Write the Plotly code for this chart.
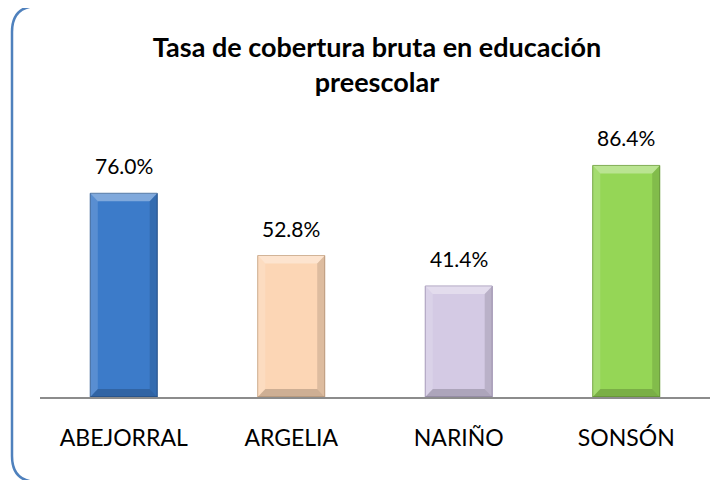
import plotly.graph_objects as go

categories = ["ABEJORRAL", "ARGELIA", "NARIÑO", "SONSÓN"]
values = [76.0, 52.8, 41.4, 86.4]
bar_colors = ["#3c7bc9", "#fcd6b5", "#d4cae4", "#95d656"]
edge_colors = ["#28568f", "#c9a583", "#9d90b3", "#6a9f36"]

OFF = 8  # browser body margin (figure drawn at 8,8 in the window)
W, H = 728 - OFF, 480 - OFF
L, R, T, B = 40 - OFF, 18, 129 - OFF, 83
pw, ph = W - L - R, H - T - B
FONT = "Lato, Open Sans, sans-serif"

def px2paper(x, y):
    # window pixel -> paper coords
    return (x - OFF - L) / pw, (H - B - (y - OFF)) / ph

fig = go.Figure()
fig.add_trace(go.Bar(
    x=categories, y=values, width=0.4,
    marker=dict(color=bar_colors, line=dict(color=edge_colors, width=1)),
    hoverinfo="x+y",
))

# value labels
for c, v in zip(categories, values):
    fig.add_annotation(x=c, y=v, text=f"{v:.1f}%", showarrow=False,
                       yanchor="bottom", yshift=13,
                       font=dict(size=21, color="#000000", family=FONT))

# bevel effect on each bar (derived from data)
bw = 0.2
bx = 0.045   # bevel in category units
by = 3.0     # bevel in value units
for i, v in enumerate(values):
    xl, xr = i - bw, i + bw
    fig.add_shape(type="path", xref="x", yref="y",
                  path=f"M {xl},{v} L {xr},{v} L {xr-bx},{v-by} L {xl+bx},{v-by} Z",
                  fillcolor="rgba(255,255,255,0.35)", line=dict(width=0))
    fig.add_shape(type="path", xref="x", yref="y",
                  path=f"M {xl},{v} L {xl+bx},{v-by} L {xl+bx},{by} L {xl},0 Z",
                  fillcolor="rgba(255,255,255,0.15)", line=dict(width=0))
    fig.add_shape(type="path", xref="x", yref="y",
                  path=f"M {xr},{v} L {xr-bx},{v-by} L {xr-bx},{by} L {xr},0 Z",
                  fillcolor="rgba(0,0,0,0.12)", line=dict(width=0))
    fig.add_shape(type="path", xref="x", yref="y",
                  path=f"M {xl},0 L {xr},0 L {xr-bx},{by} L {xl+bx},{by} Z",
                  fillcolor="rgba(0,0,0,0.18)", line=dict(width=0))

# rounded border (extends slightly past the right and bottom edges)
x0, y0, x1, y1, r = 12, 6, 741, 482, 26
def P(x, y):
    a, b = px2paper(x, y)
    return f"{a:.5f},{b:.5f}"
path = (f"M {P(x0+r,y0)} L {P(x1-r,y0)} Q {P(x1,y0)} {P(x1,y0+r)} "
        f"L {P(x1,y1-r)} Q {P(x1,y1)} {P(x1-r,y1)} L {P(x0+r,y1)} "
        f"Q {P(x0,y1)} {P(x0,y1-r)} L {P(x0,y0+r)} Q {P(x0,y0)} {P(x0+r,y0)} Z")
fig.add_shape(type="path", xref="paper", yref="paper", path=path,
              line=dict(color="#4f81bd", width=2.5), layer="below")

fig.update_layout(
    width=W, height=H,
    margin=dict(l=L, r=R, t=T, b=B),
    paper_bgcolor="white", plot_bgcolor="white",
    showlegend=False,
    title=dict(text="<b>Tasa de cobertura bruta en educación<br>preescolar</b>",
               x=(377 - OFF) / W, xanchor="center", y=1 - (57 - OFF) / H, yanchor="middle",
               font=dict(size=27, color="#000000", family=FONT)),
    xaxis=dict(showline=True, linecolor="#8c8c8c", linewidth=1.5, ticks="",
               tickfont=dict(size=23, color="#000000", family=FONT),
               ticklabelstandoff=20, range=[-0.5, 3.5]),
    yaxis=dict(range=[0, 100], visible=False, showgrid=False),
)

fig.write_html("out.html")
